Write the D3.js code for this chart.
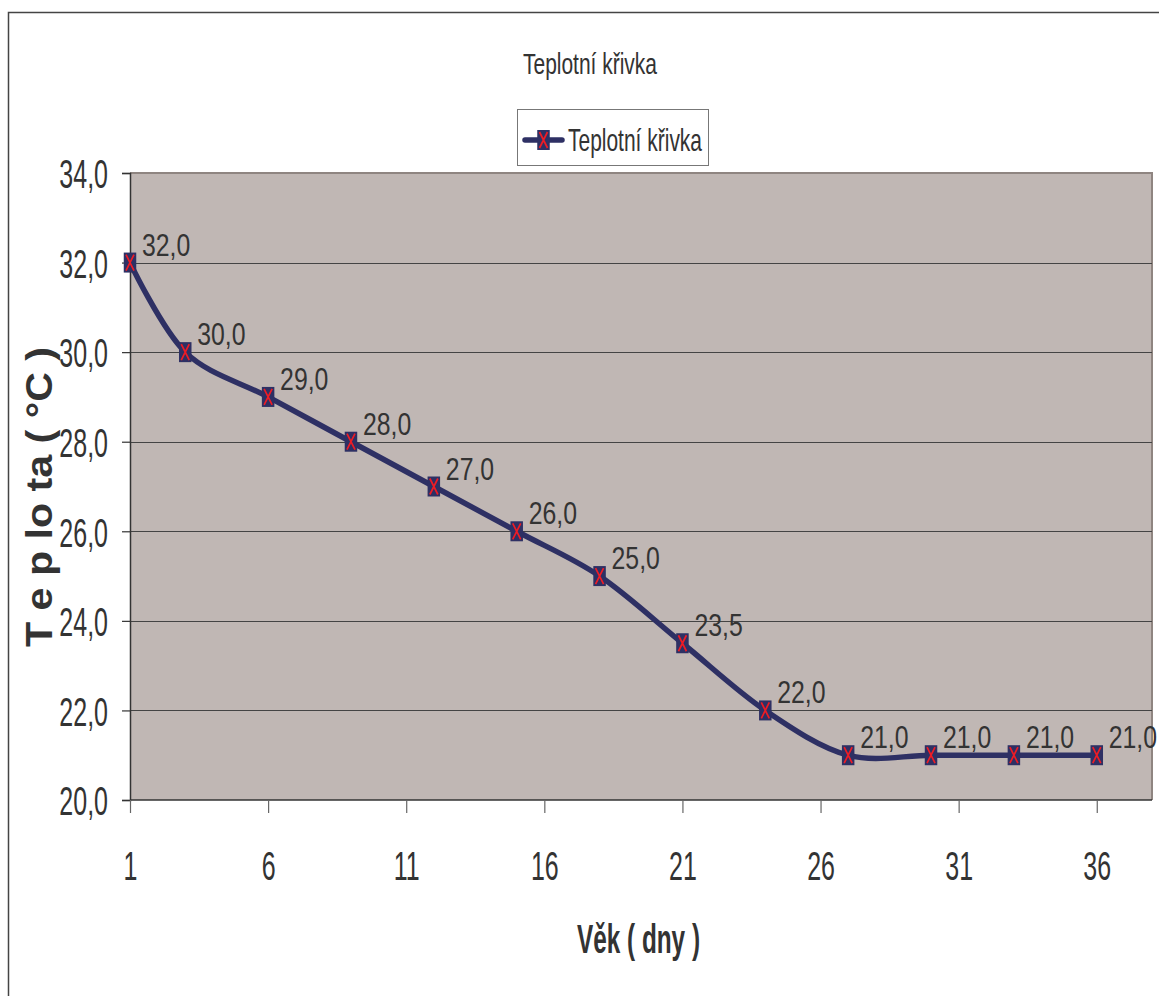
<!DOCTYPE html>
<html><head><meta charset="utf-8">
<script src="https://cdn.jsdelivr.net/npm/d3@7"></script>
<style>
html,body{margin:0;padding:0;background:#fff;}
svg{display:block;}
text{font-family:"Liberation Sans",Arial,sans-serif;fill:#333;}
</style></head>
<body>
<script>
const days = [1, 3, 6, 9, 12, 15, 18, 21, 24, 27, 30, 33, 36];
const temps = [32.0, 30.0, 29.0, 28.0, 27.0, 26.0, 25.0, 23.5, 22.0, 21.0, 21.0, 21.0, 21.0];
const xTicks = [1, 6, 11, 16, 21, 26, 31, 36];
const yTicks = [20, 22, 24, 26, 28, 30, 32, 34];
const chartTitle = "Teplotní křivka";
const seriesName = "Teplotní křivka";
const xTitle = "Věk ( dny )";
const yTitle = "T e p lo ta  (  °C  )";

const W = 1159, H = 996;
const L = 130, T = 173, R = 1152, B = 800;
const lineColor = "#2e3064", markRed = "#ee1c25", plotBg = "#c0b7b4";

const svg = d3.select("body").append("svg").attr("width", W).attr("height", H);
const loc = d3.formatLocale({decimal: ",", thousands: " ", grouping: [3], currency: ["", ""]});
const fmt = loc.format(".1f");

const x = d3.scaleLinear().domain([1, 38]).range([L, R]);
const y = d3.scaleLinear().domain([20, 34]).range([B, T]);

// outer frame
svg.append("path").attr("d", `M8.5,${H} L8.5,12.5 L${W},12.5`).attr("fill", "none").attr("stroke", "#444").attr("stroke-width", 1.5);

// plot bg
svg.append("rect").attr("x", L).attr("y", T).attr("width", R - L).attr("height", B - T).attr("fill", plotBg);
svg.append("path").attr("d", `M${L},${T} L${R},${T} L${R},${B}`).attr("fill", "none").attr("stroke", "#8f8581").attr("stroke-width", 2);

// gridlines
svg.append("g").selectAll("line").data(yTicks.filter(v => v > 20 && v < 34)).join("line")
  .attr("x1", L).attr("x2", R).attr("y1", d => Math.round(y(d)) + 0.5).attr("y2", d => Math.round(y(d)) + 0.5)
  .attr("stroke", "#444").attr("stroke-width", 1);

// y axis
const sy = 0.61;
const gy = svg.append("g").attr("transform", `translate(${L},0)`)
  .call(d3.axisLeft(y).tickValues(yTicks).tickFormat(fmt).tickSize(8).tickPadding(22));
gy.attr("font-family", null);
gy.select(".domain").attr("stroke", "#333").attr("stroke-width", 1.5);
gy.selectAll(".tick line").attr("stroke", "#333").attr("stroke-width", 1.2);
gy.selectAll(".tick text").attr("font-size", 41).attr("fill", "#333")
  .attr("x", -22 / sy).attr("transform", `scale(${sy},1)`).attr("dy", "0.36em");

// x axis
const gx = svg.append("g").attr("transform", `translate(0,${B})`)
  .call(d3.axisBottom(x).tickValues(xTicks).tickFormat(d3.format("d")).tickSize(13).tickPadding(0));
gx.attr("font-family", null);
gx.select(".domain").attr("stroke", "#333").attr("stroke-width", 1.5).attr("d", `M${L},0H${R}`);
gx.selectAll(".tick line").attr("stroke", "#666").attr("stroke-width", 1.2);
gx.selectAll(".tick text").attr("font-size", 41).attr("fill", "#333")
  .attr("y", 80).attr("dy", 0).attr("transform", `scale(${sy},1)`);

// line
const pts = days.map((d, i) => [d, temps[i]]);
svg.append("path").datum(pts)
  .attr("d", d3.line().x(d => x(d[0])).y(d => y(d[1])).curve(d3.curveCatmullRom.alpha(0)))
  .attr("fill", "none").attr("stroke", lineColor).attr("stroke-width", 5.5).attr("stroke-linejoin", "round");

// markers (tall rectangles as in the reference)
function marker(g, cx, cy) {
  const w = 12.5, h = 20;
  g.append("rect").attr("x", cx - w / 2).attr("y", cy - h / 2).attr("width", w).attr("height", h).attr("fill", lineColor);
  g.append("path").attr("d", `M${cx - 4},${cy - 8}L${cx + 4},${cy + 8}M${cx + 4},${cy - 8}L${cx - 4},${cy + 8}`)
    .attr("stroke", markRed).attr("stroke-width", 1.7).attr("fill", "none");
}
const gm = svg.append("g");
pts.forEach(p => marker(gm, x(p[0]), y(p[1])));

// data labels
const sl = 0.8;
svg.append("g").selectAll("text").data(pts).join("text")
  .attr("transform", d => `translate(${x(d[0]) + 12},${y(d[1]) - 7}) scale(${sl},1)`)
  .attr("font-size", 31).attr("fill", "#333").text(d => fmt(d[1]));

// title
svg.append("text").attr("x", 590).attr("y", 74).attr("text-anchor", "middle")
  .attr("font-size", 30).attr("textLength", 134).attr("lengthAdjust", "spacingAndGlyphs").text(chartTitle);

// legend
svg.append("rect").attr("x", 517.5).attr("y", 109.5).attr("width", 191).attr("height", 56)
  .attr("fill", "#fff").attr("stroke", "#777").attr("stroke-width", 1);
svg.append("line").attr("x1", 525).attr("x2", 562).attr("y1", 140).attr("y2", 140)
  .attr("stroke", lineColor).attr("stroke-width", 5.5).attr("stroke-linecap", "round");
marker(svg.append("g"), 543.5, 140);
svg.append("text").attr("x", 568).attr("y", 151).attr("font-size", 32)
  .attr("textLength", 134).attr("lengthAdjust", "spacingAndGlyphs").text(seriesName);

// axis titles
svg.append("text").attr("x", 577).attr("y", 953).attr("font-size", 40).attr("font-weight", "bold")
  .attr("textLength", 123).attr("lengthAdjust", "spacingAndGlyphs").text(xTitle);
svg.append("text").attr("transform", "translate(52,497) rotate(-90)").attr("text-anchor", "middle")
  .attr("font-size", 36).attr("font-weight", "bold")
  .attr("textLength", 300).attr("lengthAdjust", "spacingAndGlyphs").text(yTitle);
</script>
</body></html>
